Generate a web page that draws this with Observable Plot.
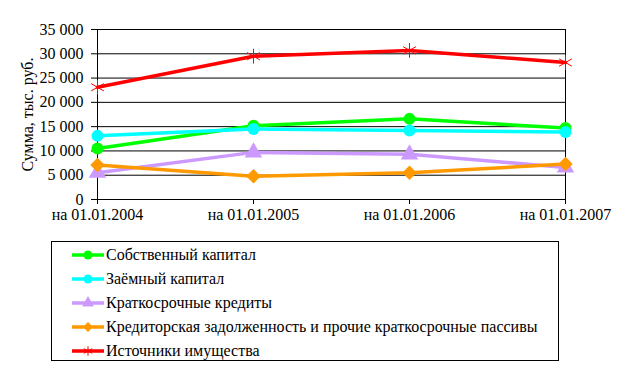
<!DOCTYPE html>
<html><head><meta charset="utf-8">
<script src="https://cdn.jsdelivr.net/npm/d3@7"></script>
<script src="https://cdn.jsdelivr.net/npm/@observablehq/plot@0.6"></script>
<style>
body{margin:0;background:#fff;font-family:'Liberation Serif','DejaVu Serif',serif;color:#000;}
#wrap{position:relative;width:620px;height:374px;overflow:hidden;}
#legend{position:absolute;left:51px;top:241px;width:508px;height:120px;border:1px solid #000;box-sizing:border-box;}
.item{position:absolute;left:20px;height:24px;display:flex;align-items:center;font-size:16px;white-space:nowrap;font-family:'Liberation Serif','DejaVu Serif',serif;}
.item svg{margin-right:2px;}
svg text{font-family:'Liberation Serif','DejaVu Serif',serif;}
</style></head>
<body><div id="wrap"><div id="chart"></div><div id="legend"></div></div>
<script>
const categories = ["на 01.01.2004", "на 01.01.2005", "на 01.01.2006", "на 01.01.2007"];
const seriesNames = ["Собственный капитал", "Заёмный капитал", "Краткосрочные кредиты", "Кредиторская задолженность и прочие краткосрочные пассивы", "Источники имущества"];
const sobstvennyi = [10500, 15200, 16600, 14700];
const zaemnyi = [13100, 14500, 14200, 13900];
const kratkosrochnye = [5500, 9700, 9300, 6600];
const kreditorskaya = [7100, 4800, 5500, 7300];
const istochniki = [23100, 29500, 30700, 28200];
const yTicks = [0, 5000, 10000, 15000, 20000, 25000, 30000, 35000];
const yLabel = "Сумма, тыс. руб.";
const colors = ["#00ff00", "#00ffff", "#cc99ff", "#ff9900", "#ff0000"];
const symbols = ["circle", "circle", "triangle", "diamond2", "asterisk"];
const sizes = [6, 6, 6.5, 6.5, 7];

const seriesValues = [sobstvennyi, zaemnyi, kratkosrochnye, kreditorskaya, istochniki];
const rows = seriesNames.flatMap((name, i) => seriesValues[i].map((v, j) => ({name, cat: categories[j], v, i})));
const fmt = d => d3.format(",")(d).replace(/,/g, " ");
const serif = "'Liberation Serif', 'DejaVu Serif', serif";

const marks = [
  Plot.ruleY(yTicks, {stroke: "#000", strokeWidth: 1}),
  Plot.ruleX([categories[categories.length - 1]], {stroke: "#000"}),
  Plot.ruleX([categories[0]], {stroke: "#000"}),
  Plot.axisY({ticks: yTicks, tickSize: 5, tickPadding: 8, tickFormat: fmt, label: null, fontSize: 16}),
  Plot.axisX({tickSize: 5, tickPadding: 4, label: null, fontSize: 16}),
  Plot.text([yLabel], {frameAnchor: "left", textAnchor: "middle", rotate: -90, dx: -69, fontSize: 16, text: d => d}),
];
seriesNames.forEach((name, i) => {
  const data = rows.filter(r => r.i === i);
  marks.push(Plot.line(data, {x: "cat", y: "v", stroke: colors[i], strokeWidth: 3.5}));
  if (symbols[i] === "asterisk") {
    marks.push(Plot.dot(data, {x: "cat", y: "v", symbol: "asterisk", r: sizes[i], stroke: colors[i], strokeWidth: 1}));
  } else {
    marks.push(Plot.dot(data, {x: "cat", y: "v", symbol: symbols[i], r: sizes[i], fill: colors[i], stroke: "none"}));
  }
});

const chart = Plot.plot({
  width: 620, height: 232,
  marginLeft: 96, marginRight: 55, marginTop: 29, marginBottom: 33,
  style: {fontFamily: serif, fontSize: "16px", color: "#000", background: "#fff"},
  x: {type: "point", domain: categories, padding: 0},
  y: {domain: [0, 35000]},
  marks
});
document.getElementById("chart").appendChild(chart);

const legend = document.getElementById("legend");
const rowTops = [1, 25, 49, 73, 97];
const symMap = {circle: d3.symbolCircle, triangle: d3.symbolTriangle, diamond2: d3.symbolDiamond2, asterisk: d3.symbolAsterisk};
seriesNames.forEach((name, i) => {
  const div = document.createElement("div");
  div.className = "item";
  div.style.top = rowTops[i] + "px";
  const svg = d3.create("svg").attr("width", 32).attr("height", 16);
  svg.append("line").attr("x1", 0).attr("x2", 32).attr("y1", 8).attr("y2", 8).attr("stroke", colors[i]).attr("stroke-width", 3.5);
  const sym = d3.symbol(symMap[symbols[i]], Math.PI * 4.5 * 4.5);
  const p = svg.append("path").attr("d", sym()).attr("transform", "translate(16,8)");
  if (symbols[i] === "asterisk") p.attr("fill", "none").attr("stroke", colors[i]).attr("stroke-width", 1);
  else p.attr("fill", colors[i]);
  div.appendChild(svg.node());
  const span = document.createElement("span");
  span.textContent = name;
  div.appendChild(span);
  legend.appendChild(div);
});
</script></body></html>
